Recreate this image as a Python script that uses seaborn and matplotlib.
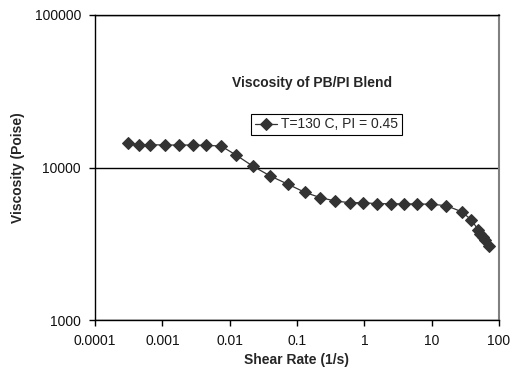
import matplotlib
matplotlib.use("Agg")
import matplotlib.pyplot as plt
import seaborn as sns
import pandas as pd
from matplotlib.ticker import FixedLocator, FixedFormatter, NullLocator

shear_rate = [3.13e-4, 4.56e-4, 6.58e-4, 1.10e-3, 1.74e-3, 2.84e-3, 4.49e-3, 7.43e-3,
              0.0124, 0.0219, 0.0402, 0.0738, 0.130, 0.223, 0.372, 0.603, 0.964,
              1.56, 2.51, 3.87, 6.12, 9.89, 16.5, 27.9, 39.0,
              49.0, 53.0, 57.0, 61.5, 71.3]
viscosity = [14420, 14110, 14110, 14040, 14040, 14040, 13960, 13840,
             12080, 10230, 8790, 7760, 6880, 6340, 6030, 5880, 5880,
             5790, 5790, 5770, 5770, 5740, 5620, 5130, 4530,
             3900, 3680, 3500, 3350, 3055]
series_label = "T=130 C, PI = 0.45"
x_ticks = [0.0001, 0.001, 0.01, 0.1, 1, 10, 100]
x_tick_labels = ["0.0001", "0.001", "0.01", "0.1", "1", "10", "100"]
y_ticks = [1000, 10000, 100000]
y_tick_labels = ["1000", "10000", "100000"]

df = pd.DataFrame({"Shear Rate": shear_rate, "Viscosity": viscosity,
                   "series": [series_label] * len(shear_rate)})

sns.set_style("white")
plt.rcParams["font.family"] = ["Liberation Sans", "DejaVu Sans"]

fig = plt.figure(figsize=(5.12, 3.79), dpi=100)
ax = fig.add_axes([95 / 512, 1 - 320 / 379, 404 / 512, 305 / 379])

sns.lineplot(data=df, x="Shear Rate", y="Viscosity", hue="series",
             palette=["#333333"], marker="D", markersize=6,
             markeredgecolor="#333333", linewidth=0.9, ax=ax, legend=True)

ax.set_xscale("log")
ax.set_yscale("log")
ax.set_xlim(1e-4, 100)
ax.set_ylim(1000, 100000)
ax.xaxis.set_major_locator(FixedLocator(x_ticks))
ax.xaxis.set_major_formatter(FixedFormatter(x_tick_labels))
ax.xaxis.set_minor_locator(NullLocator())
ax.yaxis.set_major_locator(FixedLocator(y_ticks))
ax.yaxis.set_major_formatter(FixedFormatter(y_tick_labels))
ax.yaxis.set_minor_locator(NullLocator())

ax.yaxis.grid(True, color="black", linewidth=1.0)
ax.xaxis.grid(False)
ax.set_axisbelow(True)

for side in ["left", "bottom", "top"]:
    ax.spines[side].set_color("black")
    ax.spines[side].set_linewidth(1.0)
ax.spines["right"].set_color("#808080")
ax.spines["right"].set_linewidth(1.5)

ax.tick_params(axis="both", which="major", direction="out", length=4,
               width=1.0, color="black", labelsize=10, labelcolor="#111111",
               bottom=True, left=True)
ax.tick_params(axis="x", pad=6)
ax.tick_params(axis="y", pad=6)

ax.set_xlabel("Shear Rate (1/s)", fontsize=10, fontweight="bold", labelpad=4)
ax.set_ylabel("Viscosity (Poise)", fontsize=10, fontweight="bold", labelpad=7)

ax.text(0.537, 0.777, "Viscosity of PB/PI Blend", transform=ax.transAxes,
        ha="center", va="center", fontsize=10, fontweight="bold")

leg = ax.legend(loc="center", bbox_to_anchor=(0.573, 0.641), frameon=True,
                fancybox=False, fontsize=10, handlelength=1.6,
                handletextpad=0.3, borderpad=0.25, borderaxespad=0)
leg.get_frame().set_edgecolor("black")
leg.get_frame().set_linewidth(0.8)
leg.get_frame().set_alpha(1)

fig.savefig("out.png", dpi=100)
